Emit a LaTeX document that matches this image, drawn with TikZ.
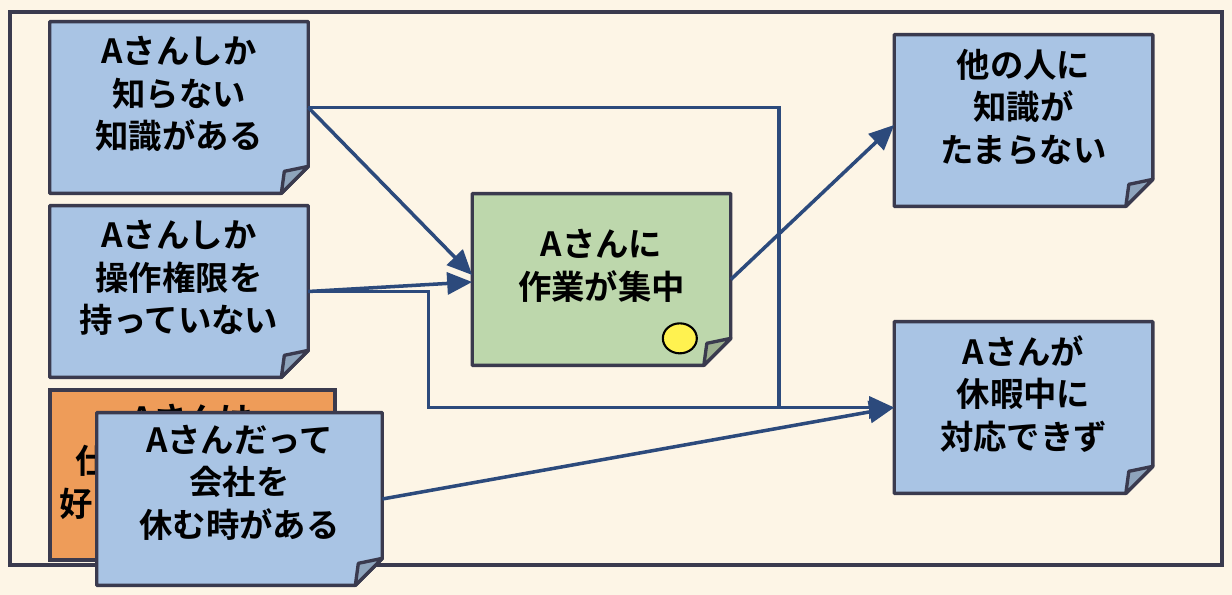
\documentclass[tikz,border=0pt]{standalone}
\usepackage{fontspec}
\newfontfamily\jpfont{Noto Sans CJK JP}[BoldFont={Noto Sans CJK JP Bold}]
\usetikzlibrary{arrows.meta, shapes.geometric, backgrounds}
\definecolor{NotePaper}{RGB}{253,245,230}
\definecolor{NoteEdge}{RGB}{58,58,78}
\definecolor{NoteBlue}{RGB}{169,196,228}
\definecolor{NoteBlueFold}{RGB}{142,164,188}
\definecolor{NoteGreen}{RGB}{189,215,172}
\definecolor{NoteGreenFold}{RGB}{157,176,143}
\definecolor{NoteOrange}{RGB}{238,156,89}
\definecolor{NoteArrow}{RGB}{44,74,124}
\definecolor{NoteYellow}{RGB}{255,242,80}

\tikzset{
  note/.style={shape=rectangle, minimum width=5.16cm, minimum height=3.42cm, inner sep=0pt},
  widenote/.style={note, minimum width=5.7cm},
  notetext/.style={align=center, inner sep=0pt, yshift=0.27cm,
    font=\jpfont\bfseries\fontsize{19}{24.2}\selectfont},
  link/.style={line width=2pt, draw=NoteArrow,
    -{Triangle[length=0.5cm,width=0.44cm]}},
  sticker/.style={ellipse, draw=black, fill=NoteYellow, line width=1.2pt,
    minimum width=0.68cm, minimum height=0.6cm, inner sep=0pt},
}

% sheet with folded corner behind a note node
\newcommand\notesheet[3]{%
  \filldraw[fill=#2, draw=NoteEdge, line width=1.9pt, line join=round]
    (#1.north west) -- (#1.north east) -- ([yshift=0.54cm]#1.south east)
    -- ([xshift=-0.54cm]#1.south east) -- (#1.south west) -- cycle;
  \filldraw[fill=#3, draw=NoteEdge, line width=1.9pt, line join=round]
    ([yshift=0.54cm]#1.south east) -- ([shift={(-0.48cm,0.44cm)}]#1.south east)
    -- ([xshift=-0.54cm]#1.south east) -- cycle;
}

\begin{document}
\begin{tikzpicture}[x=0.02cm, y=-0.02cm]
    \useasboundingbox (0,0) rectangle (1232,595);

    \node[note, label={[notetext]center:Aさんしか\\知らない\\知識がある}]          (know)  at ( 179.0, 107.5) {};
    \node[note, label={[notetext]center:Aさんしか\\操作権限を\\持っていない}]      (perm)  at ( 179.0, 291.5) {};
    \node[widenote, minimum height=3.44cm,
          label={[notetext, yshift=0.06cm]center:Aさんだって\\会社を\\休む時がある}] (rest) at ( 239.5, 499.0) {};
    \node[note, label={[notetext]center:Aさんに\\作業が集中}]                      (focus) at ( 601.5, 279.5) {};
    \node[note, label={[notetext]center:他の人に\\知識が\\たまらない}]            (share) at (1023.5, 120.5) {};
    \node[note, label={[notetext]center:Aさんが\\休暇中に\\対応できず}]            (leave) at (1023.5, 407.5) {};
    \node[sticker] (dot) at ([shift={(-1.02cm,0.54cm)}]focus.south east) {};

    \begin{scope}[on background layer]
        \fill[NotePaper] (0,0) rectangle (1232,595);
        \draw[NoteEdge, line width=2pt] (10,12) rectangle (1222,565);
        \node[widenote, minimum height=3.4cm, fill=NoteOrange, draw=NoteEdge, line width=1.9pt,
              label={[notetext]center:Aさんは\\仕事が大好きで\\好きで働いている}] (hobby) at (192.5, 475) {};
        \notesheet{know}{NoteBlue}{NoteBlueFold}
        \notesheet{perm}{NoteBlue}{NoteBlueFold}
        \notesheet{rest}{NoteBlue}{NoteBlueFold}
        \notesheet{focus}{NoteGreen}{NoteGreenFold}
        \notesheet{share}{NoteBlue}{NoteBlueFold}
        \notesheet{leave}{NoteBlue}{NoteBlueFold}
    \end{scope}

    % connectors
    \coordinate (merge) at (779, 407.5);
    \draw[link, -] (know.east) -| (merge);
    \draw[link] (perm.east) -- ++(120,0) |- (leave.west);
    \draw[link] (know.east)  -- ([yshift=0.09cm]focus.west);
    \draw[link] (perm.east)  -- ([yshift=-0.05cm]focus.west);
    \draw[link] (focus.east) -- ([yshift=-0.09cm]share.west);
    \draw[link] (rest.east)  -- (leave.west);
\end{tikzpicture}
\end{document}
